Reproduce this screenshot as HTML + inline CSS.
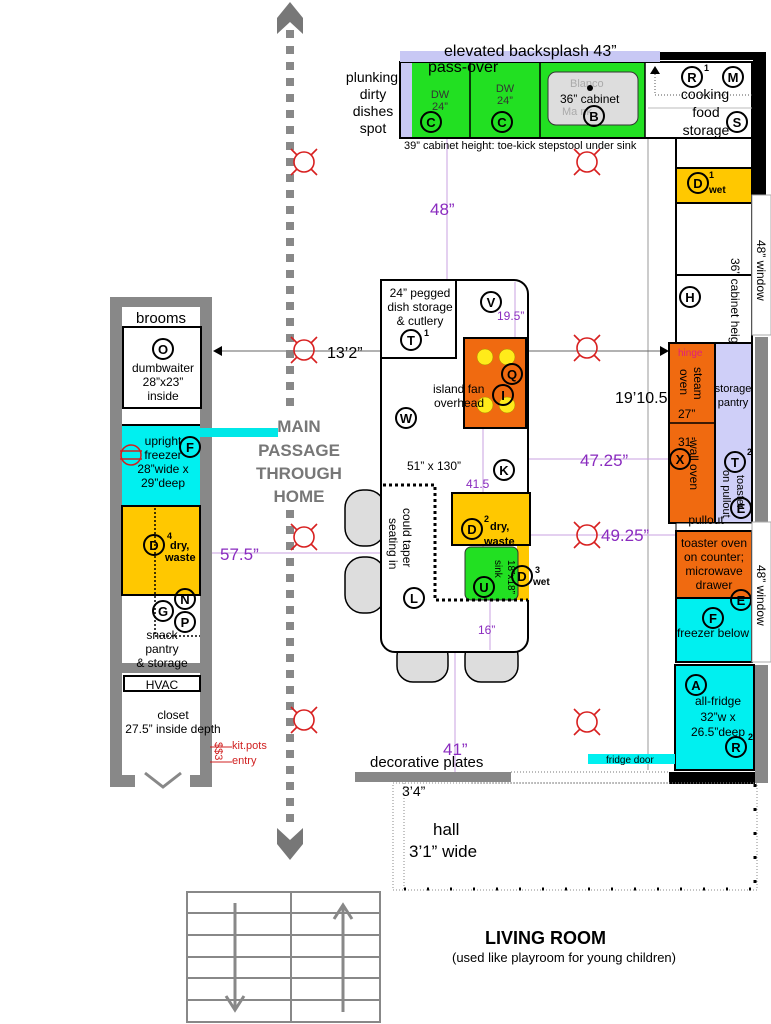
<!DOCTYPE html>
<html><head><meta charset="utf-8"><style>
html,body{margin:0;padding:0;background:#fff}
svg{display:block;font-family:"Liberation Sans",sans-serif}
.c{fill:none;stroke:#000;stroke-width:2}
.l{font-weight:bold;font-size:13px;text-anchor:middle}
.p{fill:#8a2bbf;font-size:17px}
</style></head><body>
<svg width="771" height="1024" viewBox="0 0 771 1024" xmlns="http://www.w3.org/2000/svg">
<!-- thin guide lines -->
<line x1="648" y1="62" x2="648" y2="770" stroke="#999" stroke-width="1"/>
<line x1="447" y1="138" x2="447" y2="282" stroke="#c9a0e0" stroke-width="1"/>
<line x1="212" y1="553" x2="382" y2="553" stroke="#c9a0e0" stroke-width="1"/>
<line x1="528" y1="459" x2="670" y2="459" stroke="#c9a0e0" stroke-width="1"/>
<line x1="528" y1="535" x2="676" y2="535" stroke="#c9a0e0" stroke-width="1"/>
<line x1="455" y1="652" x2="455" y2="772" stroke="#c9a0e0" stroke-width="1"/>
<line x1="215" y1="351" x2="666" y2="351" stroke="#666" stroke-width="1"/>
<polygon points="213,351 222,346 222,356" fill="#000"/>
<polygon points="669,351 660,346 660,356" fill="#000"/>

<!-- main passage -->
<line x1="290" y1="30" x2="290" y2="825" stroke="#888" stroke-width="8" stroke-dasharray="8,8"/>
<polygon points="290,2 303,18 303,34 290,22 277,34 277,18" fill="#777"/>
<polygon points="290,860 303,844 303,828 290,840 277,828 277,844" fill="#777"/>
<rect x="250" y="413" width="98" height="94" fill="#fff"/>
<text x="299" y="432" font-size="17" font-weight="bold" fill="#777" text-anchor="middle">MAIN</text>
<text x="299" y="456" font-size="17" font-weight="bold" fill="#777" text-anchor="middle">PASSAGE</text>
<text x="299" y="479" font-size="17" font-weight="bold" fill="#777" text-anchor="middle">THROUGH</text>
<text x="299" y="502" font-size="17" font-weight="bold" fill="#777" text-anchor="middle">HOME</text>

<!-- top counter -->
<rect x="660" y="52" width="106" height="8" fill="#000"/>
<rect x="753" y="52" width="13" height="143" fill="#000"/>
<rect x="400" y="62" width="352" height="76" fill="#fff" stroke="#000" stroke-width="2"/>
<rect x="401" y="63" width="11" height="74" fill="#c8c8f4"/>
<rect x="412" y="63" width="233" height="74" fill="#22e022"/>
<line x1="470" y1="63" x2="470" y2="137" stroke="#000" stroke-width="1.5"/>
<line x1="540" y1="63" x2="540" y2="137" stroke="#000" stroke-width="1.5"/>
<line x1="645" y1="63" x2="645" y2="137" stroke="#000" stroke-width="1.5"/>
<rect x="548" y="72" width="90" height="53" rx="8" fill="#ddd" stroke="#333" stroke-width="1"/>
<rect x="400" y="51" width="260" height="11" fill="#c8c8f4"/>
<text x="444" y="56" font-size="16">elevated backsplash 43”</text>
<text x="428" y="72" font-size="16">pass-over</text>
<text x="440" y="98" font-size="11" fill="#333" text-anchor="middle">DW</text>
<text x="440" y="110" font-size="11" fill="#333" text-anchor="middle">24”</text>
<text x="505" y="92" font-size="11" fill="#333" text-anchor="middle">DW</text>
<text x="505" y="104" font-size="11" fill="#333" text-anchor="middle">24”</text>
<text x="570" y="87" font-size="11" fill="#aaa">Blanco</text>
<text x="562" y="115" font-size="11" fill="#aaa">Ma    nk</text>
<circle cx="590" cy="88" r="3" fill="#000"/>
<text x="560" y="103" font-size="12">36” cabinet</text>
<circle cx="431" cy="122" r="10" class="c"/><text x="431" y="127" class="l">C</text>
<circle cx="502" cy="122" r="10" class="c"/><text x="502" y="127" class="l">C</text>
<circle cx="594" cy="116" r="10" class="c"/><text x="594" y="121" class="l">B</text>
<line x1="655" y1="68" x2="655" y2="95" stroke="#555" stroke-dasharray="1,2"/>
<line x1="655" y1="95" x2="752" y2="95" stroke="#555" stroke-dasharray="1,2"/>
<line x1="648" y1="108" x2="752" y2="108" stroke="#bbb"/>
<polygon points="650,74 655,66 660,74" fill="#000"/>
<circle cx="692" cy="77" r="10" class="c"/><text x="692" y="82" class="l">R</text><text x="704" y="71" font-size="9" font-weight="bold">1</text>
<circle cx="733" cy="77" r="10" class="c"/><text x="733" y="82" class="l">M</text>
<circle cx="737" cy="122" r="10" class="c"/><text x="737" y="127" class="l">S</text>
<text x="705" y="99" font-size="14" text-anchor="middle">cooking</text>
<text x="706" y="117" font-size="14" text-anchor="middle">food</text>
<text x="706" y="135" font-size="14" text-anchor="middle">storage</text>
<text x="372" y="82" font-size="14" text-anchor="middle">plunking</text>
<text x="373" y="99" font-size="14" text-anchor="middle">dirty</text>
<text x="373" y="116" font-size="14" text-anchor="middle">dishes</text>
<text x="373" y="133" font-size="14" text-anchor="middle">spot</text>
<text x="404" y="149" font-size="11">39” cabinet height: toe-kick stepstool under sink</text>

<!-- right column -->
<rect x="676" y="138" width="76" height="30" fill="#fff" stroke="#000" stroke-width="2"/>
<rect x="676" y="168" width="76" height="35" fill="#ffc800" stroke="#000" stroke-width="2"/>
<circle cx="698" cy="183" r="10" class="c"/><text x="698" y="188" class="l">D</text>
<text x="709" y="178" font-size="9" font-weight="bold">1</text><text x="709" y="193" font-size="10" font-weight="bold">wet</text>
<rect x="676" y="203" width="76" height="72" fill="#fff" stroke="#000" stroke-width="2"/>
<rect x="676" y="275" width="76" height="68" fill="#fff" stroke="#000" stroke-width="2"/>
<circle cx="690" cy="297" r="10" class="c"/><text x="690" y="302" class="l">H</text>
<text transform="translate(731,258) rotate(90)" font-size="12">36” cabinet height</text>
<rect x="752" y="195" width="19" height="140" fill="#fff" stroke="#aaa"/>
<text transform="translate(757,240) rotate(90)" font-size="12">48” window</text>
<rect x="755" y="337" width="13" height="185" fill="#888"/>
<rect x="715" y="343" width="37" height="180" fill="#cfcff8"/>
<rect x="669" y="343" width="46" height="180" fill="#f06a10" stroke="#000" stroke-width="2"/>
<line x1="669" y1="423" x2="715" y2="423" stroke="#000" stroke-width="1.5"/>
<rect x="669" y="343" width="83" height="180" fill="none" stroke="#000" stroke-width="2"/>
<text x="678" y="356" font-size="10" fill="#e0207a">hinge</text>
<text transform="translate(694,367) rotate(90)" font-size="12">steam</text>
<text transform="translate(680,369) rotate(90)" font-size="12">oven</text>
<text x="678" y="418" font-size="12">27”</text>
<text x="678" y="446" font-size="12">31”</text>
<text transform="translate(690,440) rotate(90)" font-size="12">wall oven</text>
<circle cx="680" cy="459" r="10" class="c"/><text x="680" y="464" class="l">X</text>
<text x="733" y="392" font-size="11" text-anchor="middle">storage</text>
<text x="733" y="406" font-size="11" text-anchor="middle">pantry</text>
<circle cx="735" cy="462" r="10" class="c"/><text x="735" y="467" class="l">T</text><text x="747" y="455" font-size="9" font-weight="bold">2</text>
<text transform="translate(737,475) rotate(90)" font-size="11">toaster</text>
<text transform="translate(723,470) rotate(90)" font-size="11">on pullout</text>
<circle cx="741" cy="508" r="10" class="c"/><text x="741" y="513" class="l">E</text>
<text x="615" y="403" font-size="16">19’10.5</text>
<rect x="676" y="523" width="76" height="8" fill="#fff" stroke="#000" stroke-width="1"/>
<text x="706" y="524" font-size="12" text-anchor="middle">pullout</text>
<rect x="676" y="531" width="76" height="67" fill="#f06a10" stroke="#000" stroke-width="2"/>
<text x="714" y="547" font-size="12" text-anchor="middle">toaster oven</text>
<text x="714" y="561" font-size="12" text-anchor="middle">on counter;</text>
<text x="714" y="575" font-size="12" text-anchor="middle">microwave</text>
<text x="714" y="589" font-size="12" text-anchor="middle">drawer</text>
<rect x="676" y="598" width="76" height="64" fill="#00f0f0" stroke="#000" stroke-width="2"/>
<circle cx="741" cy="600" r="10" class="c"/><text x="741" y="605" class="l">E</text>
<circle cx="713" cy="618" r="10" class="c"/><text x="713" y="623" class="l">F</text>
<text x="713" y="637" font-size="12" text-anchor="middle">freezer below</text>
<rect x="752" y="522" width="19" height="140" fill="#fff" stroke="#aaa"/>
<text transform="translate(757,565) rotate(90)" font-size="12">48” window</text>
<rect x="755" y="665" width="13" height="118" fill="#888"/>
<rect x="675" y="665" width="79" height="105" fill="#00f0f0" stroke="#000" stroke-width="2"/>
<circle cx="696" cy="685" r="10" class="c"/><text x="696" y="690" class="l">A</text>
<text x="718" y="705" font-size="12" text-anchor="middle">all-fridge</text>
<text x="718" y="721" font-size="12" text-anchor="middle">32”w x</text>
<text x="718" y="736" font-size="12" text-anchor="middle">26.5”deep</text>
<circle cx="736" cy="747" r="10" class="c"/><text x="736" y="752" class="l">R</text><text x="748" y="740" font-size="9" font-weight="bold">2</text>
<rect x="588" y="754" width="87" height="10" fill="#00f0f0"/>
<text x="606" y="763" font-size="10">fridge door</text>
<rect x="669" y="772" width="86" height="12" fill="#000"/>

<!-- island -->
<rect x="345" y="490" width="40" height="56" rx="18" fill="#ddd" stroke="#000" stroke-width="1.5"/>
<rect x="345" y="557" width="40" height="56" rx="18" fill="#ddd" stroke="#000" stroke-width="1.5"/>
<rect x="397" y="640" width="51" height="42" rx="16" fill="#ddd" stroke="#000" stroke-width="1.5"/>
<rect x="465" y="640" width="53" height="42" rx="16" fill="#ddd" stroke="#000" stroke-width="1.5"/>
<rect x="381" y="280" width="147" height="372" rx="14" fill="#fff" stroke="#000" stroke-width="2"/>
<line x1="515" y1="282" x2="515" y2="338" stroke="#c9a0e0" stroke-width="1"/>
<line x1="483" y1="428" x2="483" y2="600" stroke="#c9a0e0" stroke-width="1"/>
<line x1="490" y1="600" x2="490" y2="650" stroke="#c9a0e0" stroke-width="1"/>
<rect x="381" y="280" width="75" height="78" fill="#fff" stroke="#000" stroke-width="2"/>
<text x="420" y="297" font-size="12" text-anchor="middle">24” pegged</text>
<text x="420" y="311" font-size="12" text-anchor="middle">dish storage</text>
<text x="420" y="325" font-size="12" text-anchor="middle">&amp; cutlery</text>
<circle cx="411" cy="340" r="10" class="c"/><text x="411" y="345" class="l">T</text><text x="424" y="336" font-size="9" font-weight="bold">1</text>
<circle cx="491" cy="302" r="10" class="c"/><text x="491" y="307" class="l">V</text>
<text x="497" y="320" font-size="12" fill="#8a2bbf">19.5”</text>
<rect x="464" y="338" width="62" height="90" fill="#f06a10" stroke="#000" stroke-width="2"/>
<circle cx="485" cy="357" r="8" fill="#ffeb1a" stroke="#a80" stroke-width="0.5"/>
<circle cx="507" cy="357" r="8" fill="#ffeb1a" stroke="#a80" stroke-width="0.5"/>
<circle cx="485" cy="405" r="8" fill="#ffeb1a" stroke="#a80" stroke-width="0.5"/>
<circle cx="507" cy="405" r="8" fill="#ffeb1a" stroke="#a80" stroke-width="0.5"/>
<circle cx="512" cy="374" r="10" class="c"/><text x="512" y="379" class="l">Q</text>
<circle cx="503" cy="395" r="10" class="c"/><text x="503" y="400" class="l">I</text>
<text x="433" y="393" font-size="12">island fan</text>
<text x="434" y="407" font-size="12">overhead</text>
<circle cx="406" cy="418" r="10" class="c"/><text x="406" y="423" class="l">W</text>
<text x="407" y="470" font-size="12">51” x 130”</text>
<circle cx="504" cy="470" r="10" class="c"/><text x="504" y="475" class="l">K</text>
<text x="466" y="488" font-size="12" fill="#8a2bbf">41.5</text>
<rect x="452" y="493" width="78" height="52" fill="#ffc800" stroke="#000" stroke-width="2"/>
<circle cx="472" cy="529" r="10" class="c"/><text x="472" y="534" class="l">D</text>
<text x="484" y="522" font-size="9" font-weight="bold">2</text><text x="490" y="530" font-size="11" font-weight="bold">dry,</text>
<text x="484" y="545" font-size="11" font-weight="bold">waste</text>
<rect x="517" y="546" width="12" height="54" fill="#ffc800"/>
<rect x="465" y="547" width="53" height="53" rx="6" fill="#22e022" stroke="#333" stroke-width="1"/>
<text transform="translate(508,560) rotate(90)" font-size="10">18”x18”</text>
<text transform="translate(495,560) rotate(90)" font-size="10">sink</text>
<circle cx="484" cy="587" r="10" class="c"/><text x="484" y="592" class="l">U</text>
<circle cx="522" cy="576" r="10" class="c"/><text x="522" y="581" class="l">D</text>
<text x="535" y="573" font-size="9" font-weight="bold">3</text><text x="533" y="585" font-size="10" font-weight="bold">wet</text>
<polyline points="383,485 435,485 435,600 528,600" fill="none" stroke="#000" stroke-width="3" stroke-dasharray="3,3"/>
<text transform="translate(403,508) rotate(90)" font-size="12">could taper</text>
<text transform="translate(389,518) rotate(90)" font-size="12">seating in</text>
<circle cx="414" cy="598" r="10" class="c"/><text x="414" y="603" class="l">L</text>
<text x="478" y="634" font-size="12" fill="#8a2bbf">16”</text>

<!-- dimension labels -->
<text x="430" y="215" class="p">48”</text>
<text x="327" y="358" font-size="16">13’2”</text>
<text x="580" y="466" class="p">47.25”</text>
<text x="601" y="541" class="p">49.25”</text>
<text x="220" y="560" class="p">57.5”</text>
<text x="443" y="755" class="p">41”</text>

<!-- left column -->
<rect x="110" y="297" width="102" height="10" fill="#888"/>
<rect x="110" y="297" width="12" height="490" fill="#888"/>
<rect x="200" y="297" width="12" height="490" fill="#888"/>
<rect x="110" y="663" width="102" height="10" fill="#888"/>
<rect x="110" y="775" width="25" height="12" fill="#888"/>
<rect x="190" y="775" width="22" height="12" fill="#888"/>
<polyline points="145,773 163,787 181,773" fill="none" stroke="#888" stroke-width="3"/>
<text x="161" y="323" font-size="15" text-anchor="middle">brooms</text>
<rect x="123" y="327" width="78" height="81" fill="#fff" stroke="#000" stroke-width="2"/>
<circle cx="163" cy="349" r="10" class="c"/><text x="163" y="354" class="l">O</text>
<text x="163" y="372" font-size="12" text-anchor="middle">dumbwaiter</text>
<text x="163" y="386" font-size="12" text-anchor="middle">28”x23”</text>
<text x="163" y="400" font-size="12" text-anchor="middle">inside</text>
<rect x="122" y="425" width="78" height="80" fill="#00f0f0"/>
<line x1="122" y1="425" x2="200" y2="425" stroke="#000" stroke-width="2"/>
<rect x="200" y="428" width="78" height="9" fill="#00e8e8"/>
<text x="163" y="445" font-size="12" text-anchor="middle">upright</text>
<text x="163" y="459" font-size="12" text-anchor="middle">freezer</text>
<text x="163" y="473" font-size="12" text-anchor="middle">28”wide x</text>
<text x="163" y="487" font-size="12" text-anchor="middle">29”deep</text>
<circle cx="190" cy="447" r="10" class="c"/><text x="190" y="452" class="l">F</text>
<circle cx="131" cy="455" r="10" fill="none" stroke="#d02020" stroke-width="1.5"/>
<line x1="120" y1="451" x2="142" y2="451" stroke="#d02020" stroke-width="1.5"/>
<line x1="120" y1="459" x2="142" y2="459" stroke="#d02020" stroke-width="1.5"/>
<rect x="122" y="506" width="78" height="89" fill="#ffc800" stroke="#000" stroke-width="2"/>
<line x1="155" y1="508" x2="155" y2="636" stroke="#000" stroke-width="1.5" stroke-dasharray="2,2"/>
<line x1="155" y1="636" x2="200" y2="636" stroke="#000" stroke-width="1.5" stroke-dasharray="2,2"/>
<circle cx="154" cy="545" r="10" class="c"/><text x="154" y="550" class="l">D</text>
<text x="167" y="539" font-size="9" font-weight="bold">4</text><text x="170" y="549" font-size="11" font-weight="bold">dry,</text>
<text x="165" y="561" font-size="11" font-weight="bold">waste</text>
<circle cx="185" cy="599" r="10" class="c"/><text x="185" y="604" class="l">N</text>
<circle cx="163" cy="611" r="10" class="c"/><text x="163" y="616" class="l">G</text>
<circle cx="185" cy="622" r="10" class="c"/><text x="185" y="627" class="l">P</text>
<text x="162" y="639" font-size="12" text-anchor="middle">snack</text>
<text x="162" y="653" font-size="12" text-anchor="middle">pantry</text>
<text x="162" y="667" font-size="12" text-anchor="middle">&amp; storage</text>
<rect x="124" y="676" width="76" height="15" fill="#fff" stroke="#000" stroke-width="2"/>
<text x="162" y="689" font-size="12" text-anchor="middle">HVAC</text>
<text x="173" y="719" font-size="12" text-anchor="middle">closet</text>
<text x="173" y="733" font-size="12" text-anchor="middle">27.5” inside depth</text>
<text x="232" y="749" font-size="11" fill="#d02020">kit.pots</text>
<text x="232" y="764" font-size="11" fill="#d02020">entry</text>
<text transform="translate(215,742) rotate(90)" font-size="11" fill="#d02020">$$3</text>
<line x1="210" y1="747" x2="232" y2="747" stroke="#d02020"/>
<line x1="210" y1="762" x2="232" y2="762" stroke="#d02020"/>

<!-- lights -->
<g fill="none" stroke="#d82020" stroke-width="1.6">
<g transform="translate(304,162)"><circle r="10"/><path d="M-7,-7L-13,-13M7,-7L13,-13M-7,7L-13,13M7,7L13,13"/></g>
<g transform="translate(587,162)"><circle r="10"/><path d="M-7,-7L-13,-13M7,-7L13,-13M-7,7L-13,13M7,7L13,13"/></g>
<g transform="translate(304,350)"><circle r="10"/><path d="M-7,-7L-13,-13M7,-7L13,-13M-7,7L-13,13M7,7L13,13"/></g>
<g transform="translate(587,348)"><circle r="10"/><path d="M-7,-7L-13,-13M7,-7L13,-13M-7,7L-13,13M7,7L13,13"/></g>
<g transform="translate(304,537)"><circle r="10"/><path d="M-7,-7L-13,-13M7,-7L13,-13M-7,7L-13,13M7,7L13,13"/></g>
<g transform="translate(587,535)"><circle r="10"/><path d="M-7,-7L-13,-13M7,-7L13,-13M-7,7L-13,13M7,7L13,13"/></g>
<g transform="translate(304,720)"><circle r="10"/><path d="M-7,-7L-13,-13M7,-7L13,-13M-7,7L-13,13M7,7L13,13"/></g>
<g transform="translate(587,722)"><circle r="10"/><path d="M-7,-7L-13,-13M7,-7L13,-13M-7,7L-13,13M7,7L13,13"/></g>
</g>

<!-- bottom wall / hall -->
<text x="370" y="767" font-size="15">decorative plates</text>
<rect x="355" y="772" width="156" height="10" fill="#888"/>
<line x1="511" y1="772" x2="669" y2="772" stroke="#777" stroke-dasharray="1,2"/>
<line x1="472" y1="783" x2="669" y2="783" stroke="#777" stroke-dasharray="1,2"/>
<rect x="393" y="783" width="364" height="107" fill="none" stroke="#888" stroke-dasharray="1,2"/>
<line x1="404" y1="783" x2="404" y2="890" stroke="#888" stroke-dasharray="1,2"/>
<line x1="404" y1="889" x2="757" y2="889" stroke="#000" stroke-width="3" stroke-dasharray="2,21"/>
<line x1="755" y1="784" x2="755" y2="889" stroke="#000" stroke-width="3" stroke-dasharray="3,21"/>
<text x="402" y="796" font-size="14">3’4”</text>
<text x="433" y="835" font-size="17">hall</text>
<text x="409" y="857" font-size="17">3’1” wide</text>

<!-- stairs -->
<g stroke="#888" stroke-width="2" fill="none">
<rect x="187" y="892" width="193" height="130"/>
<line x1="291" y1="892" x2="291" y2="1022"/>
<line x1="187" y1="913" x2="380" y2="913"/>
<line x1="187" y1="935" x2="380" y2="935"/>
<line x1="187" y1="957" x2="380" y2="957"/>
<line x1="187" y1="978" x2="380" y2="978"/>
<line x1="187" y1="1000" x2="380" y2="1000"/>
<line x1="235" y1="903" x2="235" y2="1010" stroke-width="3"/>
<polyline points="226,996 235,1010 244,996" stroke-width="3"/>
<line x1="343" y1="905" x2="343" y2="1012" stroke-width="3"/>
<polyline points="334,919 343,905 352,919" stroke-width="3"/>
</g>
<text x="485" y="944" font-size="18" font-weight="bold">LIVING ROOM</text>
<text x="452" y="962" font-size="13">(used like playroom for young children)</text>
</svg>
</body></html>
